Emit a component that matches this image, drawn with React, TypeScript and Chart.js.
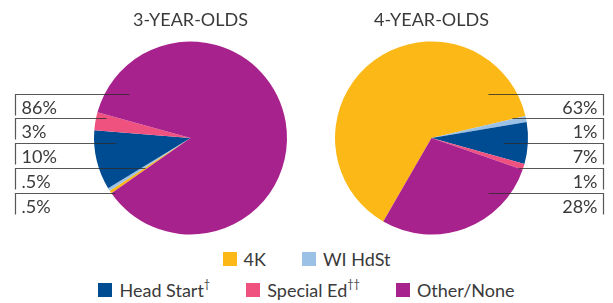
import React, { useEffect, useRef } from "react";
import { Chart, ArcElement, PieController } from "chart.js";

Chart.register(ArcElement, PieController);

const categories = ["4K", "WI HdSt", "Head Start", "Special Ed", "Other/None"];
const legendMarks = ["", "", "†", "††", ""];
const colors = ["#FBB817", "#9BC2E6", "#004C93", "#F0527F", "#A8228D"];
const threeYearValues = [0.5, 0.5, 10, 3, 86];
const fourYearValues = [63, 1, 7, 1, 28];
const titles = ["3-YEAR-OLDS", "4-YEAR-OLDS"];
const legendRows = [[0, 1], [2, 3, 4]];

const FONT = "Lato, 'Open Sans', sans-serif";
const TEXT = "#3a3a3a";
const LINE = "rgba(45,45,45,0.8)";

const fmt = (v: number) => (v < 1 ? String(v).replace(/^0/, "") : String(v)) + "%";

type Cfg = {
  title: string;
  rowOrder: number[];
  rowOffsets: number[];
  leaderDx: number[];
  edgeDx: number;
  side: "left" | "right";
};

function makeOverlay(cfg: Cfg) {
  return {
    id: "overlay",
    afterDatasetsDraw(chart: any) {
      const ctx = chart.ctx as CanvasRenderingContext2D;
      const meta = chart.getDatasetMeta(0);
      const arc = meta.data[0] as any;
      const cx = arc.x;
      const cy = arc.y;
      const values = chart.data.datasets[0].data as number[];
      ctx.save();
      ctx.fillStyle = TEXT;
      ctx.font = `18px ${FONT}`;
      ctx.textAlign = "center";
      ctx.textBaseline = "alphabetic";
      ctx.fillText(cfg.title, cx, cy - 112);

      const edge = Math.round(cx + cfg.edgeDx) + 0.5;
      ctx.strokeStyle = LINE;
      ctx.lineWidth = 1.2;
      cfg.rowOrder.forEach((idx, r) => {
        const y = Math.round(cy + cfg.rowOffsets[r]) + 0.5;
        const end = cx + cfg.leaderDx[r];
        ctx.beginPath();
        ctx.moveTo(end, y);
        ctx.lineTo(edge, y);
        ctx.lineTo(edge, y + 21);
        ctx.stroke();
        ctx.textAlign = cfg.side === "left" ? "left" : "right";
        ctx.fillText(fmt(values[idx]), cfg.side === "left" ? edge + 6 : edge - 6, y + 19);
      });
      ctx.restore();
    },
  };
}

function PieCanvas(props: {
  values: number[];
  rotation: number;
  width: number;
  height: number;
  padding: { left: number; right: number; top: number; bottom: number };
  cfg: Cfg;
  left: number;
}) {
  const ref = useRef<HTMLCanvasElement>(null);
  useEffect(() => {
    const chart = new Chart(ref.current!, {
      type: "pie",
      data: {
        labels: categories,
        datasets: [
          {
            data: props.values,
            backgroundColor: colors,
            borderWidth: 0,
          },
        ],
      },
      options: {
        responsive: false,
        animation: false,
        rotation: props.rotation,
        layout: { padding: props.padding },
        plugins: { legend: { display: false }, tooltip: { enabled: false } },
        events: [],
      },
      plugins: [makeOverlay(props.cfg)],
    });
    return () => chart.destroy();
  }, []);
  return (
    <canvas
      ref={ref}
      width={props.width}
      height={props.height}
      style={{ position: "absolute", left: props.left, top: 0, width: props.width, height: props.height }}
    />
  );
}

export default function App() {
  const rowOffsets = [-44, -20, 5, 30, 55];
  const cfg3: Cfg = {
    title: titles[0],
    rowOrder: [4, 3, 2, 1, 0],
    rowOffsets,
    leaderDx: [-61, -84, -74, -45, -75],
    edgeDx: -176,
    side: "left",
  };
  const cfg4: Cfg = {
    title: titles[1],
    rowOrder: [0, 1, 2, 3, 4],
    rowOffsets,
    leaderDx: [57, 81, 72, 87, 57],
    edgeDx: 171.5,
    side: "right",
  };
  return (
    <div style={{ position: "absolute", left: 0, top: 0, width: 613, height: 303, background: "#fff", fontFamily: FONT, color: TEXT }}>
      <PieCanvas
        values={threeYearValues}
        rotation={235}
        width={306}
        height={245}
        padding={{ left: 94, right: 19, top: 41.5, bottom: 10.5 }}
        cfg={cfg3}
        left={0}
      />
      <PieCanvas
        values={fourYearValues}
        rotation={210}
        width={307}
        height={245}
        padding={{ left: 29, right: 85, top: 41.5, bottom: 10.5 }}
        cfg={cfg4}
        left={306}
      />
      {legendRows.map((row, ri) => (
        <div
          key={ri}
          style={{
            position: "absolute",
            left: 0,
            width: 613,
            top: ri === 0 ? 250 : 281,
            height: 18,
            display: "flex",
            justifyContent: "center",
            gap: 36,
            fontSize: 18,
            lineHeight: "18px",
            whiteSpace: "nowrap",
          }}
        >
          {row.map((i) => (
            <div key={i} style={{ display: "flex", alignItems: "center" }}>
              <span style={{ display: "inline-block", width: 14, height: 14, background: colors[i], marginRight: 7 }} />
              <span>
                {categories[i]}
                {legendMarks[i] ? (
                  <sup style={{ fontSize: 11, verticalAlign: "top", lineHeight: "11px", position: "relative", top: -3 }}>{legendMarks[i]}</sup>
                ) : null}
              </span>
            </div>
          ))}
        </div>
      ))}
    </div>
  );
}
